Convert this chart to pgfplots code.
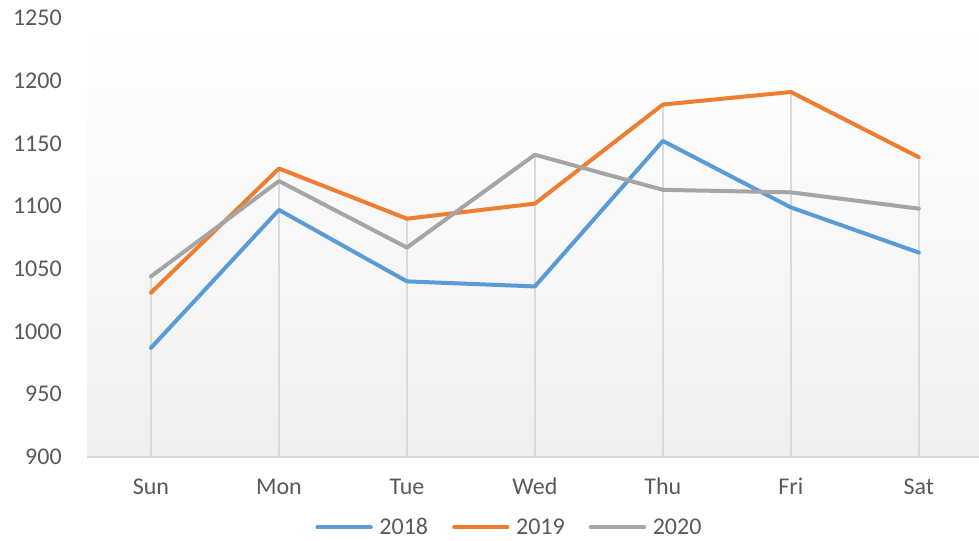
\documentclass[border=0pt]{standalone}
\usepackage{fontspec}
\setmainfont{Carlito}
\usepackage{pgfplots}
\pgfplotsset{compat=1.18}
\definecolor{s2018}{HTML}{5B9BD5}
\definecolor{s2019}{HTML}{ED7D31}
\definecolor{s2020}{HTML}{A5A5A5}
\definecolor{gridc}{HTML}{D9D9D9}
\definecolor{txt}{HTML}{595959}
\definecolor{bgbot}{HTML}{F0F0F0}

\begin{document}
\begin{tikzpicture}
\begin{axis}[
  scale only axis,
  width=669pt,height=329.25pt,
  xmin=-0.5,xmax=6.47,ymin=900,ymax=1250,
  xtick={0,1,2,3,4,5,6},
  xticklabels={Sun,Mon,Tue,Wed,Thu,Fri,Sat},
  ytick={900,950,1000,1050,1100,1150,1200,1250},
  major tick length=0pt,
  axis line style={draw=none},
  axis background/.style={top color=white,bottom color=bgbot},
  /pgf/number format/assume math mode=true,
  /pgf/number format/1000 sep={},
  tick label style={font=\fontsize{18}{21.6}\selectfont,text=txt,inner sep=0pt},
  yticklabel style={anchor=east,xshift=-18.75pt},
  xticklabel style={anchor=base,yshift=-28.3pt},
  legend columns=3,
  legend style={at={(0.474,-0.16)},anchor=center,draw=none,fill=none,
    font=\fontsize{18}{21.6}\selectfont,text=txt,inner sep=0pt,
    /tikz/every odd column/.append style={column sep=3pt},
    /tikz/every even column/.append style={column sep=16pt}},
  legend image code/.code={\draw[#1,line cap=round] (0pt,0pt) -- (40pt,0pt);},
  every axis plot/.append style={line width=3pt,line join=round,line cap=round},
]
% drop lines to the highest value of each day
\addplot[ycomb,gridc,line width=1.5pt,line cap=butt,forget plot] coordinates {
  (0,1044) (1,1130) (2,1090) (3,1141) (4,1181) (5,1191) (6,1139)};
\draw[gridc,line width=1.5pt] (rel axis cs:0,0) -- (rel axis cs:1,0);
\addplot[s2018] coordinates {
  (0,987) (1,1097) (2,1040) (3,1036) (4,1152) (5,1099) (6,1063)};
\addlegendentry{2018}
\addplot[s2019] coordinates {
  (0,1031) (1,1130) (2,1090) (3,1102) (4,1181) (5,1191) (6,1139)};
\addlegendentry{2019}
\addplot[s2020] coordinates {
  (0,1044) (1,1120) (2,1067) (3,1141) (4,1113) (5,1111) (6,1098)};
\addlegendentry{2020}
\end{axis}
\pgfresetboundingbox
\useasboundingbox (-65.25pt,-62.25pt) rectangle (669pt,342.75pt);
\end{tikzpicture}
\end{document}
